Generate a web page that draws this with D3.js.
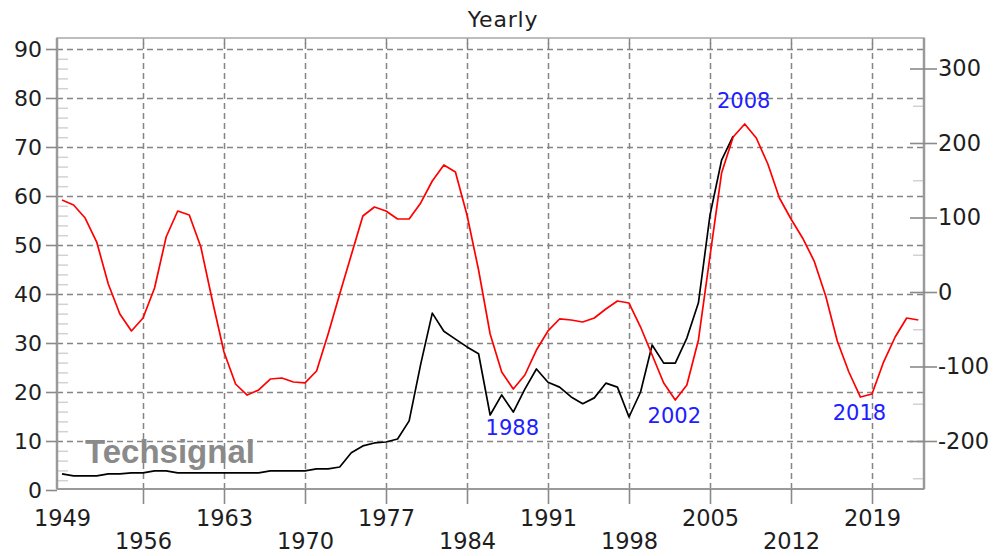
<!DOCTYPE html>
<html>
<head>
<meta charset="utf-8">
<script src="https://cdn.jsdelivr.net/npm/d3@7/dist/d3.min.js"></script>
<style>
  body { margin: 0; background: #fff; }
  svg { display: block; }
  text { font-family: "DejaVu Sans", Verdana, sans-serif; fill: #1e1e1e; }
</style>
</head>
<body>
<svg id="chart" width="995" height="556"></svg>
<script>
// yearly values, 1949..
const years = d3.range(1949, 2024);

// black series (left axis)
const priceValues = [
  3.3, 2.9, 2.9, 2.9, 3.3, 3.3, 3.5, 3.5, 3.9, 3.9,
  3.5, 3.5, 3.5, 3.5, 3.5, 3.5, 3.5, 3.5, 3.9, 3.9,
  3.9, 3.9, 4.3, 4.3, 4.7, 7.6, 9.0, 9.6, 9.8, 10.4,
  14.1, 25.7, 36.1, 32.4, 30.8, 29.2, 27.8, 15.3, 19.4, 15.9,
  20.6, 24.7, 22.0, 21.0, 19.0, 17.6, 18.8, 21.8, 21.0, 14.9,
  20.0, 29.6, 25.9, 25.9, 31.0, 38.2, 56.1, 67.3, 72.2
];

// red series (right axis)
const cycleValues = [
  123.5, 116.8, 99.3, 67.1, 10.7, -29.5, -52.3, -34.9, 5.4, 73.8,
  108.7, 103.4, 60.4, -12.1, -80.5, -123.5, -138.3, -131.5, -116.8, -115.4,
  -120.8, -122.1, -106, -56.4, -2.7, 49.7, 102, 114.1, 108.7, 98,
  98, 119.5, 149, 170.5, 161, 103.4, 29.5, -56.4, -107.4, -130.2,
  -111.4, -77.9, -52.3, -36.2, -37.6, -40.3, -34.9, -22.8, -12.1, -14.8,
  -47, -84.6, -122.1, -145, -124.8, -64.4, 48.3, 159.7, 208, 225.5,
  206.7, 171.8, 126.2, 98, 72.5, 41.6, -5.4, -65.8, -107.4, -141,
  -136.9, -94, -60.4, -34.9, -37.6
];

const xTickYears = [1949, 1956, 1963, 1970, 1977, 1984, 1991, 1998, 2005, 2012, 2019];
const leftTicks = [0, 10, 20, 30, 40, 50, 60, 70, 80, 90];
const rightTicks = [-200, -100, 0, 100, 200, 300];
const turnYears = [1988, 2002, 2008, 2018];
const turnKinds = ["low", "low", "high", "low"];

const svg = d3.select("#chart");
const plot = { left: 57, right: 924, top: 38, bottom: 489 };

const x = d3.scaleLinear().domain([1949, 2019]).range([62, 872]);
const yL = d3.scaleLinear().domain([0, 90]).range([490, 49]);
const yR = d3.scaleLinear().domain([-200, 300]).range([441, 68.5]);

// grid
svg.append("g")
  .attr("transform", `translate(${plot.left},0)`)
  .call(d3.axisLeft(yL).tickValues(leftTicks.slice(1)).tickSize(-(plot.right - plot.left)).tickFormat(""))
  .call(g => g.select(".domain").remove())
  .call(g => g.selectAll("line").attr("stroke", "#858585").attr("stroke-width", 1.5).attr("stroke-dasharray", "6,4"));

svg.append("g")
  .attr("transform", `translate(0,${plot.bottom})`)
  .call(d3.axisBottom(x).tickValues(xTickYears.slice(1)).tickSize(-(plot.bottom - plot.top)).tickFormat(""))
  .call(g => g.select(".domain").remove())
  .call(g => g.selectAll("line").attr("stroke", "#858585").attr("stroke-width", 1.5).attr("stroke-dasharray", "6,4"));

// small solid marks at top of vertical grid
svg.append("g")
  .attr("transform", `translate(0,${plot.top})`)
  .call(d3.axisBottom(x).tickValues(xTickYears.slice(1)).tickSize(6).tickFormat(""))
  .call(g => g.select(".domain").remove())
  .call(g => g.selectAll("line").attr("stroke", "#858585").attr("stroke-width", 1.5));

// minor ticks
const leftMinor = d3.range(0, 92, 2).filter(v => v % 10 !== 0);
svg.append("g")
  .attr("transform", `translate(${plot.left},0)`)
  .call(d3.axisRight(yL).tickValues(leftMinor).tickSize(11).tickFormat(""))
  .call(g => g.select(".domain").remove())
  .call(g => g.selectAll("line").attr("stroke", "#d2d2d2").attr("stroke-width", 1.5));

const rightMinor = [-250, -150, -50, 50, 150, 250];
svg.append("g")
  .attr("transform", `translate(${plot.right},0)`)
  .call(d3.axisLeft(yR).tickValues(rightMinor).tickSize(11).tickFormat(""))
  .call(g => g.select(".domain").remove())
  .call(g => g.selectAll("line").attr("stroke", "#d2d2d2").attr("stroke-width", 1.5));

// frame
svg.append("rect")
  .attr("x", plot.left).attr("y", plot.top)
  .attr("width", plot.right - plot.left).attr("height", plot.bottom - plot.top)
  .attr("fill", "none").attr("stroke", "#a8a8a8").attr("stroke-width", 1.5);
svg.append("line")
  .attr("x1", plot.left).attr("x2", plot.left).attr("y1", plot.top).attr("y2", plot.bottom)
  .attr("stroke", "#9a9a9a").attr("stroke-width", 2.5);
svg.append("line")
  .attr("x1", plot.right).attr("x2", plot.right).attr("y1", plot.top).attr("y2", plot.bottom)
  .attr("stroke", "#9a9a9a").attr("stroke-width", 2.5);
svg.append("line")
  .attr("x1", plot.left).attr("x2", plot.right).attr("y1", plot.bottom).attr("y2", plot.bottom)
  .attr("stroke", "#9a9a9a").attr("stroke-width", 2);

// left axis
svg.append("g")
  .attr("transform", `translate(${plot.left},0)`)
  .call(d3.axisLeft(yL).tickValues(leftTicks).tickSize(11).tickPadding(4))
  .call(g => g.select(".domain").remove())
  .call(g => g.selectAll("line").attr("stroke", "#8a8a8a").attr("stroke-width", 1.6))
  .call(g => g.selectAll("text").attr("font-size", 22));

// right axis (plain hyphen for negatives)
svg.append("g")
  .attr("transform", `translate(${plot.right - 14},0)`)
  .call(d3.axisRight(yR).tickValues(rightTicks).tickSize(27).tickPadding(1).tickFormat(d => String(d)))
  .call(g => g.select(".domain").remove())
  .call(g => g.selectAll("line").attr("stroke", "#8a8a8a").attr("stroke-width", 1.6))
  .call(g => g.selectAll("text").attr("font-size", 22.5));

// bottom axis, labels on two alternating rows
svg.append("g")
  .attr("transform", `translate(0,${plot.bottom})`)
  .call(d3.axisBottom(x).tickValues(xTickYears).tickSize(15).tickFormat(d3.format("d")))
  .call(g => g.select(".domain").remove())
  .call(g => g.selectAll("line").attr("stroke", "#8a8a8a").attr("stroke-width", 1.6))
  .call(g => g.selectAll(".tick").filter(d => d === 1949).select("line").remove())
  .call(g => g.selectAll("text")
    .attr("font-size", 22.5)
    .attr("dy", null)
    .attr("y", (d, i) => i % 2 === 0 ? 37 : 60));

// title
svg.append("text")
  .attr("x", 503).attr("y", 27)
  .attr("text-anchor", "middle")
  .attr("font-size", 22)
  .attr("letter-spacing", 0.8)
  .text("Yearly");

// watermark
svg.append("text")
  .attr("x", 85).attr("y", 463)
  .style("font-family", "'Liberation Sans', Arial, sans-serif")
  .style("font-weight", "bold")
  .attr("font-size", 33)
  .style("fill", "#8a8a8a")
  .text("Techsignal");

// lines
const priceData = priceValues.map((v, i) => ({ year: years[i], value: v }));
const cycleData = cycleValues.map((v, i) => ({ year: years[i], value: v }));

svg.append("path")
  .datum(priceData)
  .attr("fill", "none")
  .attr("stroke", "#000")
  .attr("stroke-width", 1.7)
  .attr("stroke-linejoin", "round")
  .attr("d", d3.line().x(d => x(d.year)).y(d => yL(d.value)));

svg.append("path")
  .datum(cycleData)
  .attr("fill", "none")
  .attr("stroke", "#ff0000")
  .attr("stroke-width", 1.7)
  .attr("stroke-linejoin", "round")
  .attr("d", d3.line().x(d => x(d.year)).y(d => yR(d.value)));

// turning point labels
turnYears.forEach((yr, i) => {
  const idx = years.indexOf(yr);
  const yRed = yR(cycleValues[idx]);
  const yBlack = idx < priceValues.length ? yL(priceValues[idx]) : -Infinity;
  const ty = turnKinds[i] === "high" ? yRed - 16 : Math.max(yRed, yBlack) + 23;
  svg.append("text")
    .attr("x", x(yr) - 1).attr("y", ty)
    .attr("text-anchor", "middle")
    .attr("font-size", 21)
    .style("fill", "#2020ff")
    .text(yr);
});
</script>
</body>
</html>
